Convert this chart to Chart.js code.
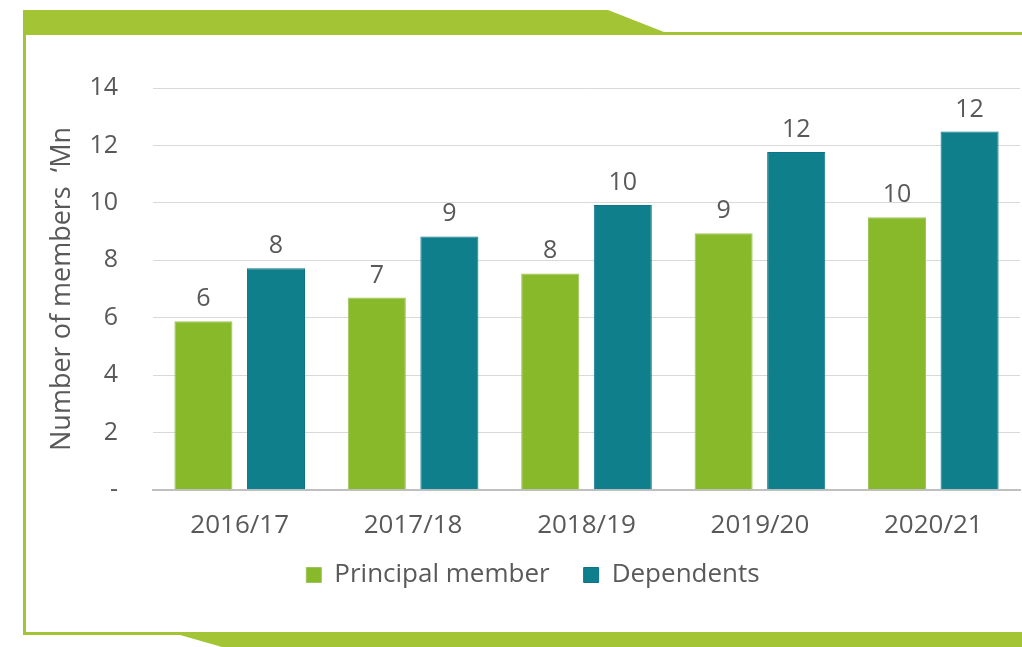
<!DOCTYPE html>
<html>
<head>
<meta charset="utf-8">
<script src="https://cdn.jsdelivr.net/npm/chart.js@4/dist/chart.umd.min.js"></script>
<style>
  html, body { margin: 0; padding: 0; background: #fff; }
  #wrap { position: relative; width: 1022px; height: 647px; overflow: hidden; }
  #frame { position: absolute; left: 0; top: 0; }
  #chart { position: absolute; left: 0; top: 0; }
</style>
</head>
<body>
<div id="wrap">
  <svg id="frame" width="1022" height="647">
    <polygon fill="#a3c535" points="23,10 608,10 664,32 1022,32 1022,35 23,35"/>
    <rect fill="#a3c535" x="23" y="35" width="3" height="600"/>
    <polygon fill="#a3c535" points="23,632 1022,632 1022,647 222,647 180,635 23,635"/>
  </svg>
  <canvas id="chart" width="1022" height="647"></canvas>
</div>
<script>
const years = ['2016/17', '2017/18', '2018/19', '2019/20', '2020/21'];
const principal = [5.87, 6.70, 7.54, 8.94, 9.50];
const dependents = [7.72, 8.83, 9.92, 11.77, 12.48];
const yTicks = [0, 2, 4, 6, 8, 10, 12, 14];

const textColor = '#595959';
const fontFamily = "'Open Sans', 'Noto Sans', sans-serif";

// write the rounded value above each bar
const barLabels = {
  id: 'barLabels',
  afterDatasetsDraw(chart) {
    const ctx = chart.ctx;
    ctx.save();
    ctx.fillStyle = textColor;
    ctx.font = '25px ' + fontFamily;
    ctx.textAlign = 'center';
    ctx.textBaseline = 'alphabetic';
    chart.data.datasets.forEach((ds, i) => {
      const meta = chart.getDatasetMeta(i);
      meta.data.forEach((bar, j) => {
        ctx.fillText(String(Math.round(ds.data[j])), bar.x, bar.y - 15);
      });
    });
    ctx.restore();
  }
};

// legend sits closer to the axis labels than its padding would allow
const liftLegend = {
  id: 'liftLegend',
  afterLayout(chart) {
    const lg = chart.legend;
    lg.top -= 33;
    lg.bottom -= 33;
  }
};

new Chart(document.getElementById('chart'), {
  type: 'bar',
  data: {
    labels: years,
    datasets: [
      {
        label: 'Principal member',
        data: principal,
        backgroundColor: '#88b92a',
        borderColor: '#9cc45a',
        borderWidth: 1,
        categoryPercentage: 0.837,
        barPercentage: 0.8
      },
      {
        label: 'Dependents',
        data: dependents,
        backgroundColor: '#0f7f8b',
        borderColor: '#0d7389',
        borderWidth: 1,
        categoryPercentage: 0.837,
        barPercentage: 0.8
      }
    ]
  },
  options: {
    responsive: false,
    animation: false,
    devicePixelRatio: 1,
    layout: { padding: { left: 46, right: 2, top: 88, bottom: 16 } },
    scales: {
      x: {
        grid: { display: false, drawTicks: false },
        border: { display: true, color: '#bfbfbf', width: 2 },
        ticks: {
          color: textColor,
          font: { family: fontFamily, size: 26 },
          padding: 20
        }
      },
      y: {
        min: 0,
        max: 14,
        afterBuildTicks: axis => { axis.ticks = yTicks.map(v => ({ value: v })); },
        afterFit: axis => { axis.width = 107; },
        grid: { color: '#d9d9d9', lineWidth: 1, drawTicks: false },
        border: { display: false },
        ticks: {
          color: textColor,
          font: { family: fontFamily, size: 25 },
          padding: 35,
          callback: v => v === 0 ? '-' : v
        },
        title: {
          display: true,
          text: 'Number of members  \u2018Mn',
          color: textColor,
          font: { family: fontFamily, size: 27 },
          padding: { top: 0, bottom: 11 }
        }
      }
    },
    plugins: {
      legend: {
        position: 'bottom',
        labels: {
          color: textColor,
          font: { family: fontFamily, size: 26 },
          boxWidth: 15,
          boxHeight: 15,
          padding: 34
        }
      },
      tooltip: { enabled: false }
    }
  },
  plugins: [barLabels, liftLegend]
});
</script>
</body>
</html>
